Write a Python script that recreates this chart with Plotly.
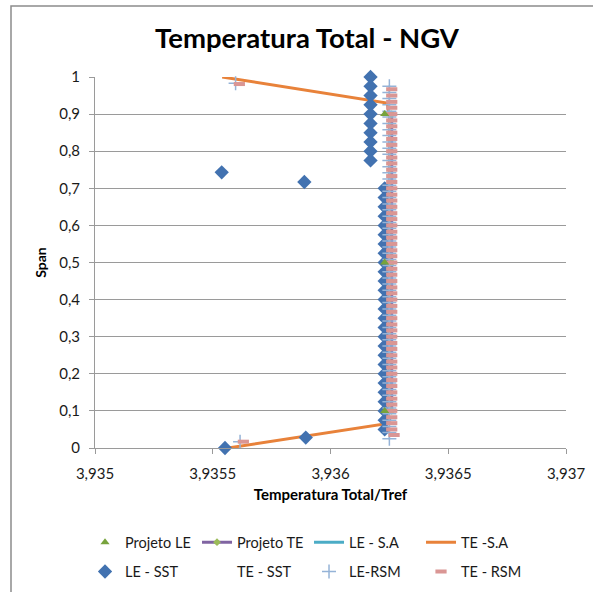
import plotly.graph_objects as go

# ---------------- data ----------------
x_tick_vals = [3.935, 3.9355, 3.936, 3.9365, 3.937]
x_tick_text = ["3,935", "3,9355", "3,936", "3,9365", "3,937"]

# Projeto
proj_le_x = [3.93623, 3.93623, 3.93623]
proj_le_y = [0.9, 0.5, 0.1]
proj_te_x = [3.93626, 3.93626, 3.93626]
proj_te_y = [0.9, 0.5, 0.1]

# S.A lines
te_sa_x = [3.93554, 3.93624, 3.93625, 3.93625, 3.93623, 3.935565]
te_sa_y = [1.0, 0.93, 0.90, 0.10, 0.065, 0.0]

# LE - SST
le_sst_x = [3.93617, 3.93617, 3.93617, 3.93617, 3.93617, 3.93617, 3.93617, 3.93617, 3.93617, 3.93617,
            3.935538, 3.935889,
            3.93623, 3.93623, 3.93623, 3.93623, 3.93623, 3.93623, 3.93623, 3.93623, 3.93623,
            3.93623, 3.93623, 3.93623, 3.93623, 3.93623, 3.93623, 3.93623, 3.93623, 3.93623,
            3.93623, 3.93623, 3.93623, 3.93623, 3.93623, 3.93623, 3.93623, 3.93623, 3.93623,
            3.935895, 3.935552]
le_sst_y = [1.0, 0.975, 0.95, 0.925, 0.9, 0.875, 0.85, 0.825, 0.8, 0.775,
            0.743, 0.717,
            0.70, 0.675, 0.65, 0.625, 0.60, 0.575, 0.55, 0.525, 0.50,
            0.475, 0.45, 0.425, 0.40, 0.375, 0.35, 0.325, 0.30, 0.275,
            0.25, 0.225, 0.20, 0.175, 0.15, 0.125, 0.10, 0.075, 0.05,
            0.028, 0.0]

# LE-RSM
le_rsm_y = [0.983, 0.975, 0.958, 0.942, 0.925, 0.908, 0.892, 0.875, 0.858, 0.842, 0.825, 0.808,
            0.792, 0.775, 0.758, 0.742, 0.725, 0.708, 0.692, 0.675, 0.658, 0.642, 0.625,
            0.608, 0.592, 0.575, 0.558, 0.542, 0.525, 0.508, 0.492, 0.475, 0.458, 0.442,
            0.425, 0.408, 0.392, 0.375, 0.358, 0.342, 0.325, 0.308, 0.292, 0.275, 0.258,
            0.242, 0.225, 0.208, 0.192, 0.175, 0.158, 0.142, 0.125, 0.108, 0.092, 0.075,
            0.058, 0.042, 0.025, 0.017]
le_rsm_x = [3.935597] + [3.93625] * 58 + [3.935616]

# TE - RSM
te_rsm_y = [0.981, 0.967, 0.950, 0.933, 0.917, 0.900, 0.883, 0.867, 0.850, 0.833, 0.817, 0.800,
            0.783, 0.767, 0.750, 0.733, 0.717, 0.700, 0.683, 0.667, 0.650, 0.633, 0.617,
            0.600, 0.583, 0.567, 0.550, 0.533, 0.517, 0.500, 0.483, 0.467, 0.450, 0.433,
            0.417, 0.400, 0.383, 0.367, 0.350, 0.333, 0.317, 0.300, 0.283, 0.267, 0.250,
            0.233, 0.217, 0.200, 0.183, 0.167, 0.150, 0.133, 0.117, 0.100, 0.083, 0.067,
            0.050, 0.035, 0.017]
te_rsm_x = [3.935613] + [3.93626] * 56 + [3.93627, 3.93563]

FONT = "Lato"
AX = "#9A9A9A"

fig = go.Figure()

# Projeto TE line drawn first (behind everything)
fig.add_trace(go.Scatter(name="Projeto TE", x=proj_te_x, y=proj_te_y, mode="lines+markers",
                         line=dict(color="#8064A2", width=3),
                         marker=dict(symbol="diamond", size=6, color="#9BBB59"),
                         legend="legend", legendrank=2))
# lines
fig.add_trace(go.Scatter(name="TE -S.A", x=te_sa_x, y=te_sa_y, mode="lines",
                         line=dict(color="#E8823A", width=3), legend="legend", legendrank=4,
                         cliponaxis=False))
fig.add_trace(go.Scatter(name="LE - S.A", x=[None], y=[None], mode="lines",
                         line=dict(color="#4BACC6", width=3), legend="legend", legendrank=3))
# markers
fig.add_trace(go.Scatter(name="LE - SST", x=le_sst_x, y=le_sst_y, mode="markers",
                         marker=dict(symbol="diamond", size=11, color="#4272B0"),
                         legend="legend2", legendrank=1, cliponaxis=False))
fig.add_trace(go.Scatter(name="TE - SST", x=[None], y=[None], mode="markers",
                         marker=dict(symbol="circle", size=8, color="rgba(0,0,0,0)"),
                         legend="legend2", legendrank=2))
fig.add_trace(go.Scatter(name="LE-RSM", x=le_rsm_x, y=le_rsm_y, mode="markers",
                         marker=dict(symbol="cross-thin", size=10,
                                     line=dict(color="#95B3D7", width=1.5)),
                         legend="legend2", legendrank=3, cliponaxis=False))
fig.add_trace(go.Scatter(name="TE - RSM", x=te_rsm_x, y=te_rsm_y, mode="markers",
                         marker=dict(symbol="line-ew", size=8,
                                     line=dict(color="#DA9694", width=4)),
                         legend="legend2", legendrank=4, cliponaxis=False))
fig.add_trace(go.Scatter(name="Projeto LE", x=proj_le_x, y=proj_le_y, mode="markers",
                         marker=dict(symbol="triangle-up", size=8, color="#77A33C"),
                         legend="legend", legendrank=1))

legend_common = dict(orientation="h", xanchor="left", yanchor="top",
                     font=dict(family=FONT, size=14.5, color="#1a1a1a"),
                     entrywidth=67, entrywidthmode="pixels",
                     bgcolor="rgba(0,0,0,0)", traceorder="normal")

fig.update_layout(
    width=593, height=592,
    margin=dict(l=95, r=27, t=77, b=144, autoexpand=False),
    paper_bgcolor="white", plot_bgcolor="white",
    separators=",.",
    font=dict(family=FONT, size=15, color="#1a1a1a"),
    title=dict(text="<b>Temperatura Total - NGV</b>", x=307 / 593, xanchor="center",
               y=1 - 38 / 592, yanchor="middle", yref="container",
               font=dict(family=FONT, size=27.5, color="black")),
    legend=dict(x=-0.0212, y=-0.211, **legend_common),
    legend2=dict(x=-0.0212, y=-0.290, **legend_common),
    xaxis=dict(range=[3.935, 3.937], tickvals=x_tick_vals, ticktext=x_tick_text,
               showgrid=False, zeroline=False, showline=True, linecolor=AX, linewidth=1,
               ticks="outside", ticklen=5, tickcolor=AX, ticklabelstandoff=7,
               automargin=False,
               tickfont=dict(family=FONT, size=15, color="#1a1a1a"),
               title=dict(text="<b>Temperatura Total/Tref</b>", standoff=8,
                          font=dict(family=FONT, size=15, color="black"))),
    yaxis=dict(range=[0, 1], dtick=0.1, tick0=0,
               showgrid=True, gridcolor=AX, gridwidth=1, zeroline=False,
               showline=True, linecolor=AX, linewidth=1, automargin=False,
               ticks="outside", ticklen=5, tickcolor=AX, ticklabelstandoff=6,
               tickfont=dict(family=FONT, size=15, color="#1a1a1a"),
               title=dict(text="<b>Span</b>", standoff=9,
                          font=dict(family=FONT, size=14, color="black"))),
    shapes=[dict(type="rect", xref="paper", yref="paper",
                 x0=(11 - 95) / 471, x1=(620 - 95) / 471,
                 y0=(448 - 620) / 371, y1=(448 - 6) / 371,
                 line=dict(color="#8C8C8C", width=1.5), fillcolor="rgba(0,0,0,0)",
                 layer="below")],
    showlegend=True,
)

fig.write_html("out.html")
